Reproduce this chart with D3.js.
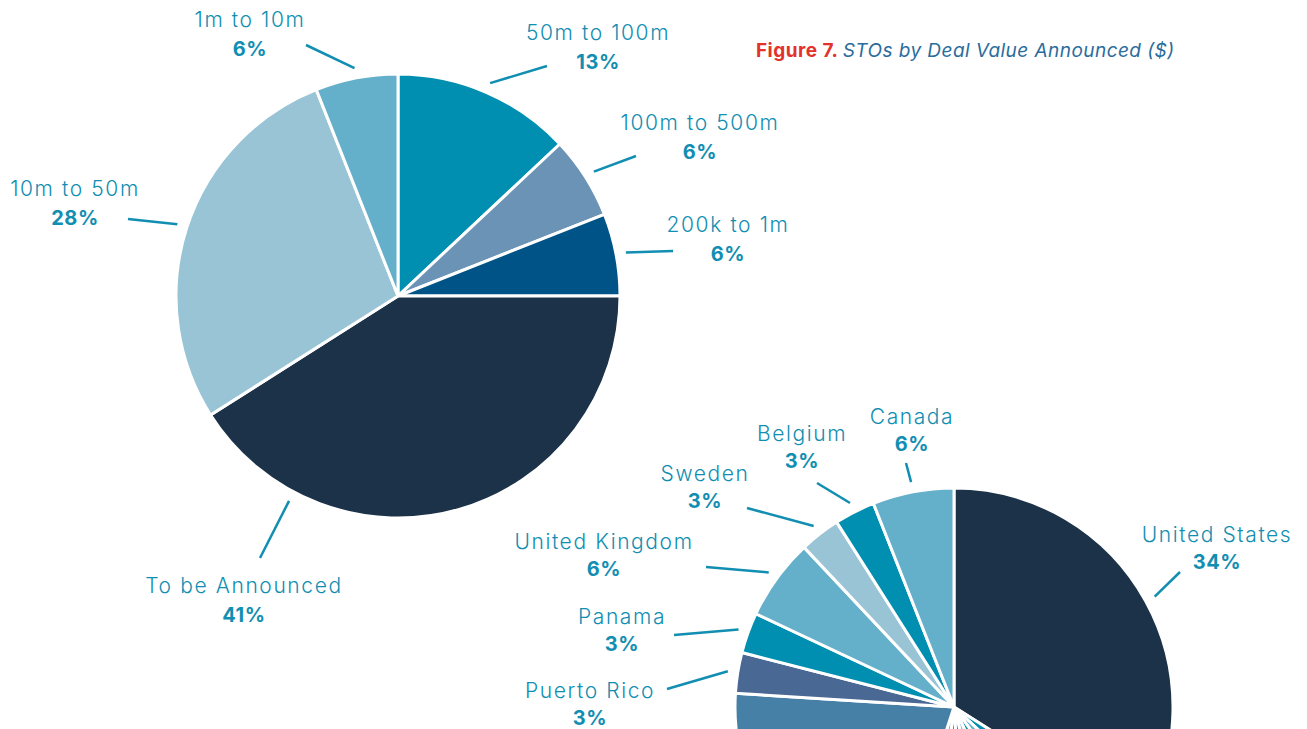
<!DOCTYPE html>
<html lang="en">
<head>
    <meta charset="UTF-8">
    <title>Figure 7 - STOs by Deal Value Announced</title>
    <style>
        body { margin: 0; background: #fff; }
        svg { display: block; }
        .name { font-family: Inter, Lato, sans-serif; font-weight: 300; font-size: 21px; letter-spacing: 1.6px; fill: #118eb1; }
        .pct { font-family: Inter, Lato, sans-serif; font-weight: 700; font-size: 20px; letter-spacing: 0.6px; fill: #118eb1; }
    </style>
</head>
<body>
    <script src="https://d3js.org/d3.v7.min.js"></script>
    <script>
        // deal value pie (clockwise from 12 o'clock)
        const dealLabels = ['50m to 100m', '100m to 500m', '200k to 1m', 'To be Announced', '10m to 50m', '1m to 10m'];
        const dealValues = [13, 6, 6, 41, 28, 6];
        const dealColors = ['#008fb0', '#6a93b5', '#005386', '#1b3249', '#99c4d6', '#64afc9'];

        // country pie (clockwise from 12 o'clock), the lower part runs off the page
        const countryLabels = ['United States', 'Other A', 'Other B', 'Other C', 'Other D', 'Other E', 'Other F', 'Other G',
            'Other H', 'Puerto Rico', 'Panama', 'United Kingdom', 'Sweden', 'Belgium', 'Canada'];
        const countryValues = [34, 3, 3, 3, 3, 3, 3, 3, 21, 3, 3, 6, 3, 3, 6];
        const countryColors = ['#1b3249', '#008fb0', '#64afc9', '#008fb0', '#99c4d6', '#4a6894', '#008fb0', '#64afc9',
            '#4680a6', '#4a6894', '#008fb0', '#64afc9', '#99c4d6', '#008fb0', '#64afc9'];

        const width = 1307, height = 729;

        // label layout, offsets from the pie centre: text = name baseline, line = outer end of leader
        const dealLayout = {
            '50m to 100m':     { text: [200, -256], line: [149, -230] },
            '100m to 500m':    { text: [302, -166], line: [238, -140] },
            '200k to 1m':      { text: [330, -64],  line: [275, -45] },
            'To be Announced': { text: [-154, 297], line: [-138, 262], angle: 208 },
            '10m to 50m':      { text: [-323, -100], line: [-270, -77] },
            '1m to 10m':       { text: [-148, -269], line: [-92, -251] }
        };
        const countryLayout = {
            'United States':  { text: [263, -165], line: [226, -135] },
            'Canada':         { text: [-42, -283], line: [-48, -244] },
            'Belgium':        { text: [-152, -266], line: [-137, -224] },
            'Sweden':         { text: [-249, -226], line: [-207, -199] },
            'United Kingdom': { text: [-350, -158], line: [-248, -140] },
            'Panama':         { text: [-332, -83], line: [-280, -72] },
            'Puerto Rico':    { text: [-364, -9],  line: [-287, -18] }
        };

        const svg = d3.select('body').append('svg')
            .attr('width', width).attr('height', height);

        function midAngle(d, lay) {
            return lay.angle != null ? lay.angle * Math.PI / 180 : (d.startAngle + d.endAngle) / 2;
        }

        function drawPie(labels, values, colors, layout, cx, cy, r, gap) {
            const data = labels.map((l, i) => ({ label: l, value: values[i], color: colors[i] }));
            const arcs = d3.pie().sort(null).value(d => d.value)(data);
            const arc = d3.arc().innerRadius(0).outerRadius(r);

            const g = svg.append('g').attr('transform', `translate(${cx},${cy})`);

            g.selectAll('path')
                .data(arcs)
                .enter().append('path')
                .attr('d', arc)
                .attr('fill', d => d.data.color)
                .attr('stroke', '#fff')
                .attr('stroke-width', 3)
                .attr('stroke-linejoin', 'round');

            const labelled = arcs.filter(d => layout[d.data.label]);

            g.selectAll('line')
                .data(labelled)
                .enter().append('line')
                .attr('x1', d => Math.sin(midAngle(d, layout[d.data.label])) * (r + 10))
                .attr('y1', d => -Math.cos(midAngle(d, layout[d.data.label])) * (r + 10))
                .attr('x2', d => layout[d.data.label].line[0])
                .attr('y2', d => layout[d.data.label].line[1])
                .attr('stroke', '#118eb1')
                .attr('stroke-width', 2.5);

            const t = g.selectAll('g.lbl')
                .data(labelled)
                .enter().append('g')
                .attr('class', 'lbl')
                .attr('transform', d => `translate(${layout[d.data.label].text[0]},${layout[d.data.label].text[1]})`);

            t.append('text')
                .attr('class', 'name')
                .attr('text-anchor', 'middle')
                .text(d => d.data.label);

            t.append('text')
                .attr('class', 'pct')
                .attr('text-anchor', 'middle')
                .attr('y', gap)
                .text(d => d.data.value + '%');
        }

        drawPie(dealLabels, dealValues, dealColors, dealLayout, 398, 296, 222, 29);
        drawPie(countryLabels, countryValues, countryColors, countryLayout, 954, 707, 219, 27);

        // title
        const title = svg.append('text')
            .attr('x', 756).attr('y', 57)
            .style('font-family', 'Inter, Lato, sans-serif')
            .style('font-size', '19px')
            .style('letter-spacing', '0.45px');
        title.append('tspan')
            .attr('fill', '#e2322b')
            .attr('font-weight', 700)
            .text('Figure 7. ');
        title.append('tspan')
            .attr('fill', '#2a6c9c')
            .attr('font-style', 'italic')
            .attr('font-weight', 400)
            .text('STOs by Deal Value Announced ($)');
    </script>
</body>
</html>
